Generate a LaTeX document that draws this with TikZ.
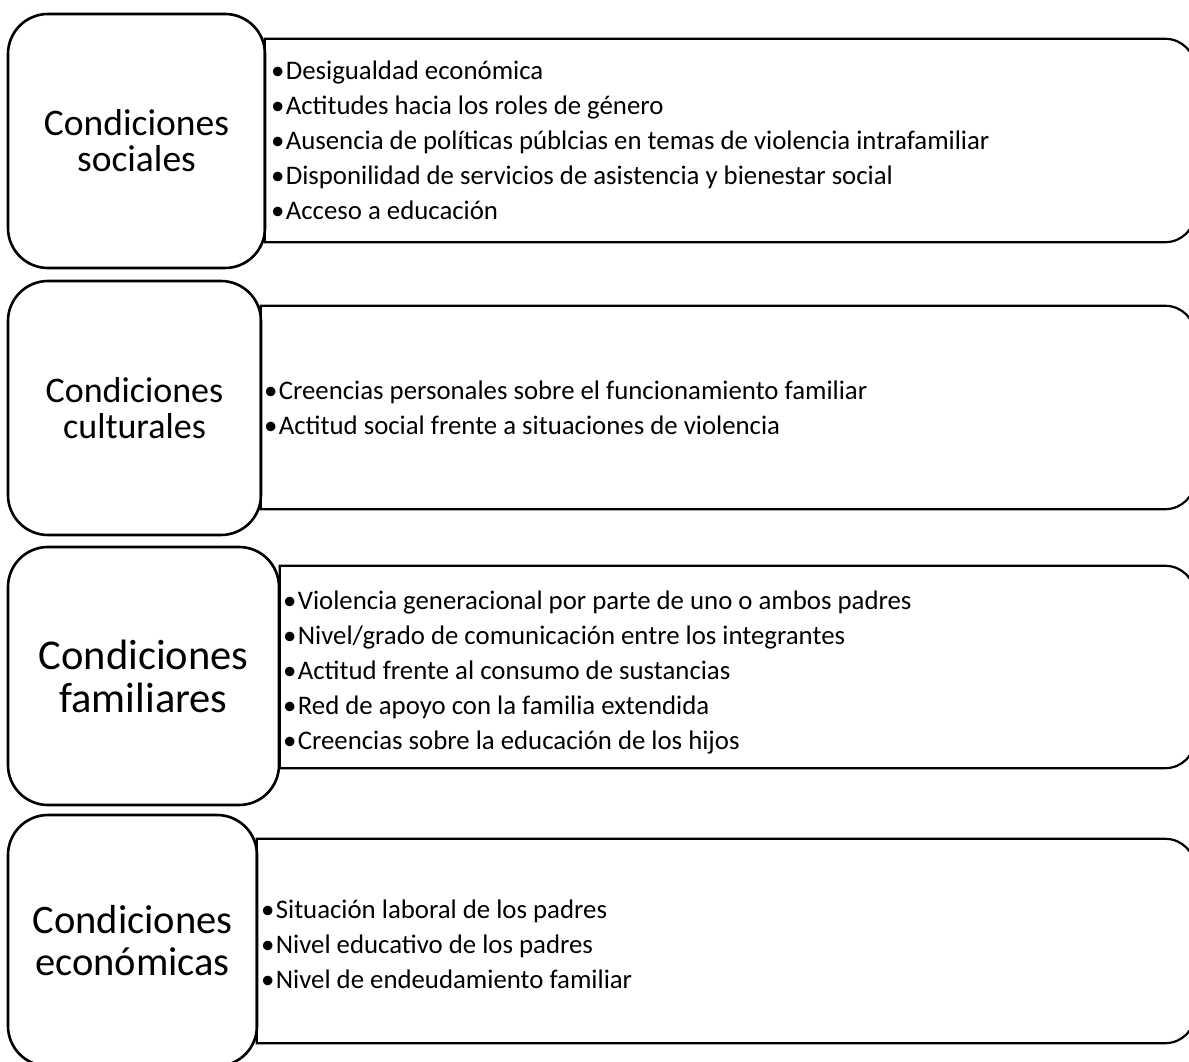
\documentclass[tikz,border=0pt]{standalone}
\usepackage{fontspec}
\setmainfont{Carlito}
\newcommand{\bul}{•\hspace{1.5pt}}
\tikzset{
  lbox/.style={draw=black, line width=2.6pt, rounded corners=40pt, align=center, inner sep=0pt},
  rbox/.style={inner sep=0pt},
  rtext/.style={anchor=west, align=left, inner sep=0pt, font=\fontsize{26.8}{35}\selectfont},
  rline/.style={draw=black, line width=2.2pt},
  smallA/.style={font=\fontsize{37.5}{36}\selectfont},
  smallB/.style={font=\fontsize{36}{36}\selectfont},
  bigA/.style={font=\fontsize{42.5}{43}\selectfont},
  bigB/.style={font=\fontsize{40.5}{42}\selectfont}
}
\newcommand{\rightoutline}[1]{%
  \draw[rline] (#1.north west) -- ([xshift=-30pt]#1.north east)
    arc[start angle=90, end angle=0, radius=30pt]
    -- ([yshift=30pt]#1.south east)
    arc[start angle=0, end angle=-90, radius=30pt]
    -- (#1.south west) -- cycle;}
\begin{document}
\begin{tikzpicture}[x=1pt,y=1pt]
\useasboundingbox (0,0) rectangle (1189,1061);
% right boxes
\node[rbox, minimum width=930pt, minimum height=203pt] (r1) at (730,920.5) {};
\node[rbox, minimum width=934pt, minimum height=203pt] (r2) at (728,653.5) {};
\node[rbox, minimum width=915pt, minimum height=202pt] (r3) at (737.5,394) {};
\node[rbox, minimum width=938pt, minimum height=204pt] (r4) at (726,120) {};
\rightoutline{r1}
\rightoutline{r2}
\rightoutline{r3}
\rightoutline{r4}
% texts
\node[rtext] (t1) at ([xshift=6pt]r1.west) {\bul Desigualdad económica\\\bul Actitudes hacia los roles de género\\\bul Ausencia de políticas públcias en temas de violencia intrafamiliar\\\bul Disponilidad de servicios de asistencia y bienestar social\\\bul Acceso a educación};
\node[rtext] (t2) at ([xshift=3pt]r2.west) {\bul Creencias personales sobre el funcionamiento familiar\\\bul Actitud social frente a situaciones de violencia};
\node[rtext] (t3) at ([xshift=3pt,yshift=-5pt]r3.west) {\bul Violencia generacional por parte de uno o ambos padres\\\bul Nivel/grado de comunicación entre los integrantes\\\bul Actitud frente al consumo de sustancias\\\bul Red de apoyo con la familia extendida\\\bul Creencias sobre la educación de los hijos};
\node[rtext] (t4) at ([xshift=4pt,yshift=-3pt]r4.west) {\bul Situación laboral de los padres\\\bul Nivel educativo de los padres\\\bul Nivel de endeudamiento familiar};
% left boxes
\node[lbox, smallA, minimum width=257pt, minimum height=254pt] (l1) at (136.5,920) {Condiciones\\sociales};
\node[lbox, smallB, minimum width=253pt, minimum height=254pt] (l2) at (134.5,653) {Condiciones\\culturales};
\node[lbox, bigA, minimum width=271pt, minimum height=258pt] (l3) at (143.5,385) {Condiciones\\familiares};
\node[lbox, bigB, minimum width=249pt, minimum height=251pt] (l4) at (132.5,120.5) {Condiciones\\económicas};
\end{tikzpicture}
\end{document}
